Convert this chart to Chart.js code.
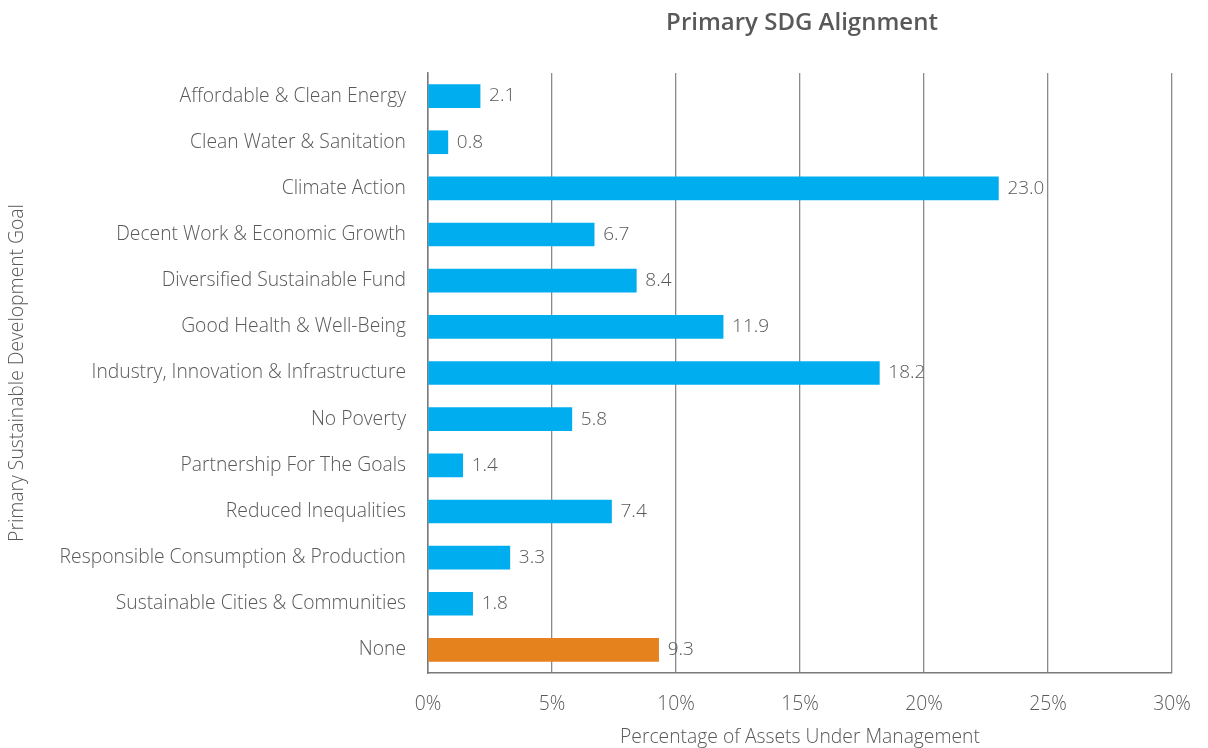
<!DOCTYPE html>
<html>
<head>
<meta charset="utf-8">
<script src="https://cdn.jsdelivr.net/npm/chart.js@4.4.1/dist/chart.umd.min.js"></script>
<style>
  html, body { margin: 0; padding: 0; background: #fff; }
  #wrap { width: 1208px; height: 748px; }
</style>
</head>
<body>
<div id="wrap"><canvas id="sdgChart" width="1208" height="748"></canvas></div>
<script>
// -------------------------------
// Data
// -------------------------------
const goals = [
    "Affordable & Clean Energy",
    "Clean Water & Sanitation",
    "Climate Action",
    "Decent Work & Economic Growth",
    "Diversified Sustainable Fund",
    "Good Health & Well-Being",
    "Industry, Innovation & Infrastructure",
    "No Poverty",
    "Partnership For The Goals",
    "Reduced Inequalities",
    "Responsible Consumption & Production",
    "Sustainable Cities & Communities",
    "None"
];
const aumShare = [2.1, 0.8, 23.0, 6.7, 8.4, 11.9, 18.2, 5.8, 1.4, 7.4, 3.3, 1.8, 9.3];
const xTicks = [0, 5, 10, 15, 20, 25, 30];

const BLUE = "#00AEEF";
const ORANGE = "#E6821E";
const TEXT = "#595959";
const FONT = "'Open Sans', 'Noto Sans', sans-serif";
const SIZE = 19.3;

const barColors = goals.map(g => g === "None" ? ORANGE : BLUE);

// -------------------------------
// Plugins: title over plot, value labels
// -------------------------------
const plotTitle = {
    id: "plotTitle",
    afterDraw(chart) {
        const { ctx, chartArea } = chart;
        ctx.save();
        ctx.font = `600 24px ${FONT}`;
        ctx.fillStyle = TEXT;
        ctx.textAlign = "center";
        ctx.textBaseline = "middle";
        ctx.fillText("Primary SDG Alignment", (chartArea.left + chartArea.right) / 2 + 2, 23);
        ctx.restore();
    }
};

const valueLabels = {
    id: "valueLabels",
    afterDatasetsDraw(chart) {
        const { ctx } = chart;
        const meta = chart.getDatasetMeta(0);
        ctx.save();
        ctx.font = `300 19px ${FONT}`;
        ctx.fillStyle = TEXT;
        ctx.textAlign = "left";
        ctx.textBaseline = "middle";
        meta.data.forEach((bar, i) => {
            ctx.fillText(aumShare[i].toFixed(1), bar.x + 9, bar.y);
        });
        ctx.restore();
    }
};

// -------------------------------
// Chart
// -------------------------------
const ctx = document.getElementById("sdgChart").getContext("2d");
new Chart(ctx, {
    type: "bar",
    data: {
        labels: goals,
        datasets: [{
            data: aumShare,
            backgroundColor: barColors,
            barThickness: 23,
            borderWidth: 0
        }]
    },
    options: {
        indexAxis: "y",
        responsive: false,
        animation: false,
        layout: { padding: { top: 73, right: 36, left: 0, bottom: 0 } },
        plugins: {
            legend: { display: false },
            tooltip: { enabled: false }
        },
        scales: {
            x: {
                min: 0,
                max: 30,
                afterFit: s => { s.height = 75; s.paddingLeft = 0; s.paddingRight = 0; },
                afterBuildTicks: s => { s.ticks = xTicks.map(v => ({ value: v })); },
                grid: { color: "#8a8a8a", lineWidth: 1.3, drawTicks: false },
                border: { display: true, color: "#7a7a7a", width: 1.5 },
                ticks: {
                    padding: 20,
                    color: TEXT,
                    font: { family: FONT, size: SIZE, weight: 300 },
                    callback: v => v + "%"
                },
                title: {
                    display: true,
                    text: "Percentage of Assets Under Management",
                    color: TEXT,
                    font: { family: FONT, size: SIZE, weight: 300 },
                    padding: { top: 0, bottom: -1 }
                }
            },
            y: {
                afterFit: s => { s.width = 428; },
                grid: { display: false, drawTicks: false },
                border: { display: true, color: "#7a7a7a", width: 1.5 },
                ticks: {
                    padding: 22,
                    color: TEXT,
                    font: { family: FONT, size: SIZE, weight: 300 }
                },
                title: {
                    display: true,
                    text: "Primary Sustainable Development Goal",
                    color: TEXT,
                    font: { family: FONT, size: SIZE, weight: 300 },
                    padding: { top: 6, bottom: 0 }
                }
            }
        }
    },
    plugins: [plotTitle, valueLabels]
});
</script>
</body>
</html>
